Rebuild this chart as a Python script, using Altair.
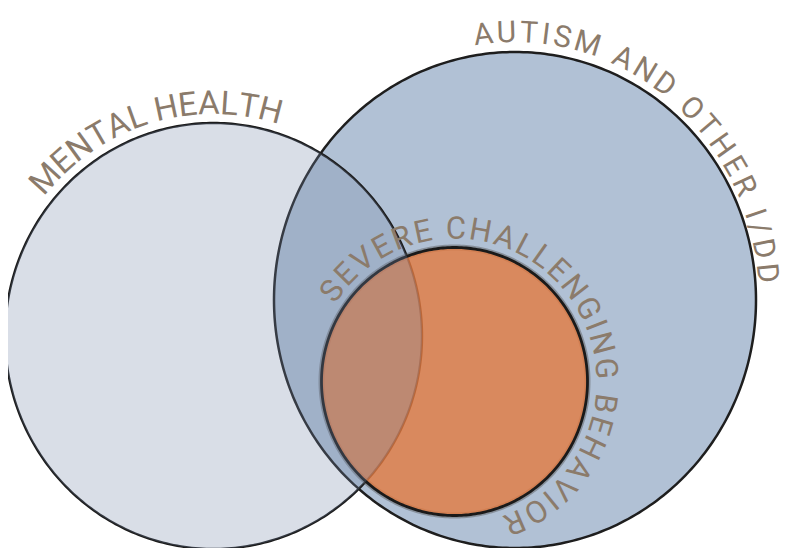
import math
import altair as alt
import pandas as pd

# ---- data -------------------------------------------------------------
OFF = 8            # page margin (reference pixel -> chart pixel)
W, H = 774, 540

circle_names = ["MENTAL HEALTH", "AUTISM AND OTHER I/DD", "SEVERE CHALLENGING BEHAVIOR"]
circle_cx = [213.5, 515.0, 454.5]
circle_cy = [336.0, 300.0, 381.5]
circle_rx = [208.5, 241.0, 133.0]
circle_ry = [213.0, 248.0, 134.0]

label_mid_deg = [-16.5, 38.5, 51.5]
label_gap_x = [9.0, 3.0, 9.0]
label_gap_y = [9.0, 10.0, 9.0]
label_size = [33, 30, 31]
label_spacing = [0.4, 3.9, 2.6]

# approximate advance widths (em) for Roboto capitals
CW = {"A": .652, "B": .623, "C": .637, "D": .641, "E": .555, "G": .666, "H": .697,
      "I": .272, "L": .526, "M": .853, "N": .697, "O": .671, "R": .602, "S": .586,
      "T": .588, "U": .634, "V": .637, "/": .412, " ": .248}

TEXT_COLOR = "#8b7b6b"


def ellipse_feature(i):
    ring = []
    for k in range(361):
        t = math.radians(k)
        ring.append([circle_cx[i] + circle_rx[i] * math.cos(t) - OFF,
                     circle_cy[i] + circle_ry[i] * math.sin(t) - OFF])
    return {"type": "Feature", "properties": {"name": circle_names[i]},
            "geometry": {"type": "Polygon", "coordinates": [ring]}}


def label_chars(i):
    text = circle_names[i]
    fs = label_size[i]
    sp = label_spacing[i]
    adv = [CW.get(c, .6) * fs for c in text]
    centers = []
    s = 0.0
    for k, a in enumerate(adv):
        centers.append(s + a / 2)
        s += a + sp
    smid = (centers[0] + centers[-1]) / 2
    rx = circle_rx[i] + label_gap_x[i]
    ry = circle_ry[i] + label_gap_y[i]
    R = (rx + ry) / 2
    rows = []
    for c, sc in zip(text, centers):
        if c == " ":
            continue
        phi = math.radians(label_mid_deg[i]) + (sc - smid) / R
        rows.append({"ch": c,
                     "x": circle_cx[i] + rx * math.sin(phi) - OFF,
                     "y": circle_cy[i] - ry * math.cos(phi) - OFF,
                     "rot": math.degrees(phi) % 360})
    return pd.DataFrame(rows)


proj = dict(type="identity", scale=1, translate=[0, 0])


def shape(i, **mark):
    return alt.Chart(alt.Data(values=[ellipse_feature(i)])).mark_geoshape(**mark).project(**proj)


autism = shape(1, fill="#b1c1d5", stroke="#1e1e1e", strokeWidth=2.5)
mental_line = shape(0, filled=False, stroke="#1c1c1c", strokeWidth=2.4)
severe_shadow = shape(2, filled=False, stroke="#555555", strokeWidth=6, strokeOpacity=0.45)
severe = shape(2, fill="#e47a40", fillOpacity=0.8, stroke="#1a1a1a", strokeWidth=2.8)
mental_fill = shape(0, fill="#7889aa", fillOpacity=0.28, strokeWidth=0)

texts = []
for i in range(3):
    texts.append(
        alt.Chart(label_chars(i)).mark_text(
            font="Roboto", fontSize=label_size[i], color=TEXT_COLOR,
            align="center", baseline="alphabetic"
        ).encode(
            longitude="x:Q", latitude="y:Q", text="ch:N",
            angle=alt.Angle("rot:Q", scale=None)
        ).project(**proj)
    )

chart = alt.layer(autism, mental_line, severe_shadow, severe, mental_fill, *texts).properties(
    width=W, height=H, padding=0, autosize=alt.AutoSizeParams(type="none")
).configure_view(strokeWidth=0)

chart.save("out.html", embed_options={"renderer": "svg", "actions": False})
